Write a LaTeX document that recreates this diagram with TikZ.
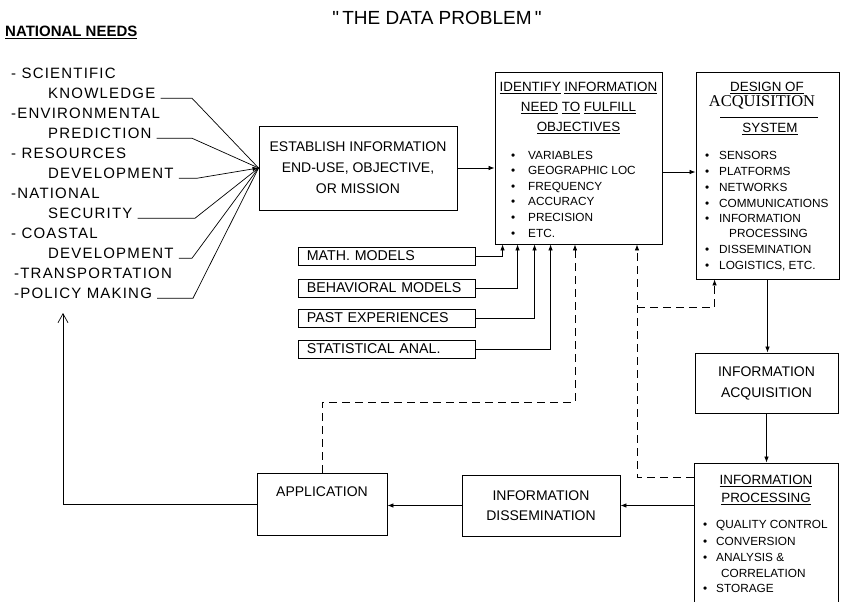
\documentclass[tikz,border=0pt]{standalone}
\usepackage{fontspec}
\setmainfont{Liberation Sans}
\newfontfamily\acqfont{Liberation Serif}
\newfontfamily\spaced[LetterSpace=8]{Liberation Sans}
\usepackage{tikz}
\usetikzlibrary{arrows.meta}

\newcommand{\boxtext}{\fontsize{14}{21}\selectfont}
\newcommand{\headtext}{\fontsize{13.4}{20}\selectfont}
\newcommand{\itemtext}{\fontsize{11.8}{16}\selectfont}
\newcommand{\bul}[1]{\makebox[#1][l]{\textbullet}}

\tikzset{
  blok/.style={draw, line width=0.9pt, align=center, font=\boxtext},
  inbox/.style={draw, line width=0.8pt, anchor=west, text width=160pt, inner xsep=8.5pt,
    inner ysep=0pt, minimum height=18pt, align=left, text depth=0pt,
    font=\fontsize{14.2}{16}\selectfont},
  txt/.style={inner sep=1pt, text depth=0pt, anchor=west},
  head/.style={inner sep=1pt, text depth=0pt, align=center, font=\headtext},
  link/.style={line width=0.7pt},
  arr/.style={link, -{Latex[length=6pt,width=4.5pt]}},
  fbk/.style={arr, dash pattern=on 8pt off 5pt},
}

\begin{document}
\begin{tikzpicture}[x=1pt, y=-1pt]
    \useasboundingbox (0,0) rectangle (843,602);
    \clip (0,0) rectangle (843,602);

    \node[font=\fontsize{19}{20}\selectfont] (title) at (437,18) {\textquotedbl\,THE DATA PROBLEM\,\textquotedbl};
    \node[txt, font=\bfseries\fontsize{15}{16}\selectfont] (natneeds) at (4,31) {\underline{NATIONAL NEEDS}};

    % national needs list
    \foreach \x/\t [count=\i] in {10/- SCIENTIFIC, 47/KNOWLEDGE, 10/-ENVIRONMENTAL, 47/PREDICTION,
        10/- RESOURCES, 47/DEVELOPMENT, 10/-NATIONAL, 47/SECURITY, 10/- COASTAL, 47/DEVELOPMENT,
        13/-TRANSPORTATION, 13/-POLICY MAKING}
      \node[txt, font=\spaced\fontsize{15}{16}\selectfont] (nn\i) at (\x,{73+20*(\i-1)}) {\t};

    % main boxes
    \node[blok, minimum width=198pt, minimum height=84pt] (establish) at (358,168)
        {ESTABLISH INFORMATION\\END-USE, OBJECTIVE,\\OR MISSION};
    \node[blok, minimum width=167pt, minimum height=172pt] (identify) at (578.5,158) {};
    \node[blok, minimum width=143pt, minimum height=207pt] (design) at (767.5,175.5) {};
    \node[blok, minimum width=143pt, minimum height=60pt] (acq) at (766.5,383)
        {INFORMATION\\ACQUISITION};
    \node[blok, minimum width=144pt, minimum height=152pt] (proc) at (766,539) {};
    \node[blok, minimum width=158pt, minimum height=61pt, font=\fontsize{14}{20}\selectfont] (diss) at (541,505.5)
        {INFORMATION\\DISSEMINATION};
    \node[blok, minimum width=130pt, minimum height=62pt, font=\fontsize{14}{19}\selectfont] (appl) at (322,504)
        {APPLICATION\\\strut};

    % identify
    \node[head] (idhead) at (578.5,107) {\underline{IDENTIFY} \underline{INFORMATION}\\
        \underline{NEED} \underline{TO} \underline{FULFILL}\\\underline{OBJECTIVES}};
    \foreach \t [count=\i] in {VARIABLES, GEOGRAPHIC LOC, FREQUENCY, ACCURACY, PRECISION, ETC.}
      \node[txt, font=\itemtext] (idv\i) at (510,{155+15.6*(\i-1)}) {\bul{17pt}\t};

    % design of acquisition system
    \node[head] (dsg1) at (767,87) {\underline{DESIGN OF}};
    \node[inner sep=1pt, font=\acqfont\fontsize{16.5}{18}\selectfont] (dsg2) at (762,102) {ACQUISITION};
    \draw[link] (720,117) -- (818,117);
    \node[head] (dsg3) at (770,128) {\underline{SYSTEM}};
    \foreach \y/\x/\t [count=\i] in {155/704/\bul{14pt}SENSORS, 171/704/\bul{14pt}PLATFORMS,
        187/704/\bul{14pt}NETWORKS, 203/704/\bul{14pt}COMMUNICATIONS, 218/704/\bul{14pt}INFORMATION,
        233/728/PROCESSING, 249/704/\bul{14pt}DISSEMINATION, 265/704/{\bul{14pt}LOGISTICS, ETC.}}
      \node[txt, font=\itemtext] (dsv\i) at (\x,\y) {\t};

    % information processing
    \node[head, font=\fontsize{13.4}{18}\selectfont] (prhead) at (766,489)
        {\underline{INFORMATION}\\\underline{PROCESSING}};
    \foreach \y/\x/\t [count=\i] in {524/702/\bul{13pt}QUALITY CONTROL, 541/702/\bul{13pt}CONVERSION,
        557/702/\bul{13pt}ANALYSIS \&, 573/720/CORRELATION, 588/702/\bul{13pt}STORAGE}
      \node[txt, font=\itemtext] (prv\i) at (\x,\y) {\t};

    % inputs
    \node[inbox] (math) at (298,256) {MATH. MODELS};
    \node[inbox] (behav) at (298,288) {BEHAVIORAL MODELS};
    \node[inbox] (past) at (298,318) {PAST EXPERIENCES};
    \node[inbox] (stat) at (298,349) {STATISTICAL ANAL.};

    % connectors
    \foreach \i/\x/\s in {2/192/link, 4/192/link, 6/197/arr, 8/195/link, 10/192/link, 12/193/link}
      \draw[\s] ([xshift=4pt]nn\i.base east) -- (nn\i.base east -| \x,0) -- (establish.west);
    \draw[arr] (establish.east) -- (establish.east -| identify.west);
    \draw[arr] ([yshift=-14pt]identify.east) -- ([yshift=-14pt]identify.east -| design.west);
    \draw[arr] (math.east) -| ([xshift=8pt]identify.south west);
    \draw[arr] (behav.east) -| ([xshift=23pt]identify.south west);
    \draw[arr] (past.east) -| ([xshift=40pt]identify.south west);
    \draw[arr] (stat.east) -| ([xshift=56pt]identify.south west);
    \draw[arr] (design.south) -- (design.south |- acq.north);
    \draw[arr] (acq.south) -- (acq.south |- proc.north);
    \draw[arr] (proc.west |- diss.east) -- (diss.east);
    \draw[arr] (diss.west) -- (diss.west -| appl.east);
    \coordinate (needtop) at (63,313);
    \draw[link, -{Straight Barb[length=9pt,width=10pt]}] (appl.west) -| (needtop);

    % feedback
    \coordinate (fb1) at (575,402);
    \coordinate (fb2) at (637,477);
    \coordinate (fb3) at (637,307);
    \draw[fbk] (appl.north) |- (fb1) -- (fb1 |- identify.south);
    \draw[fbk] (fb2 -| proc.west) -- (fb2) -- (fb2 |- identify.south);
    \draw[fbk] (fb3) -| ([xshift=19pt]design.south west);
\end{tikzpicture}
\end{document}
